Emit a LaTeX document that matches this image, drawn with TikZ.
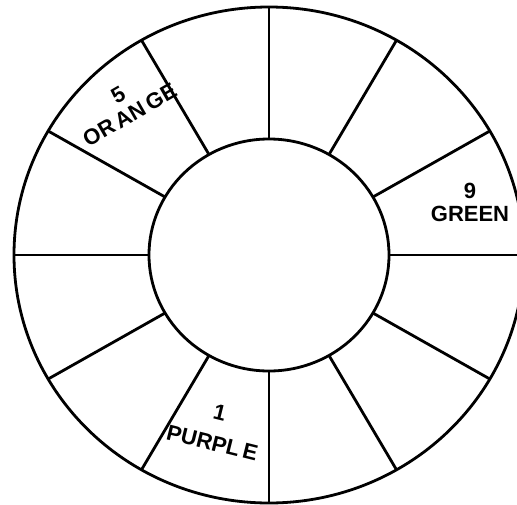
\documentclass[tikz,border=0pt]{standalone}
\usepackage{fontspec}
\setmainfont{Liberation Sans}
\usepackage{tikz}
\usetikzlibrary{positioning}

\begin{document}
\begin{tikzpicture}[x=1pt,y=-1pt,line width=2.8pt,
   lbl/.style={align=center,inner sep=0pt,font=\bfseries\fontsize{22}{23}\selectfont}]
  \useasboundingbox (0,0) rectangle (517,504);
  % outer rim and hub
  \draw (269,255) ellipse [x radius=255,y radius=248];
  \draw (269,255) ellipse [x radius=120,y radius=116];
  % twelve spokes
  \foreach \a in {0,30,...,330}
    \draw ({269+120*cos(\a)},{255+116*sin(\a)}) -- ({269+255*cos(\a)},{255+248*sin(\a)});
  % sector labels
  \node[lbl,rotate=30] (orange) at (124,105) {5\\OR\,AN\,GE};
  \node[lbl] (green) at (470,202) {9\\GREEN};
  \node[lbl,rotate=-14,font=\bfseries\fontsize{22}{31}\selectfont] (purple) at (216,428) {1\\PURPL\,E};
\end{tikzpicture}
\end{document}
